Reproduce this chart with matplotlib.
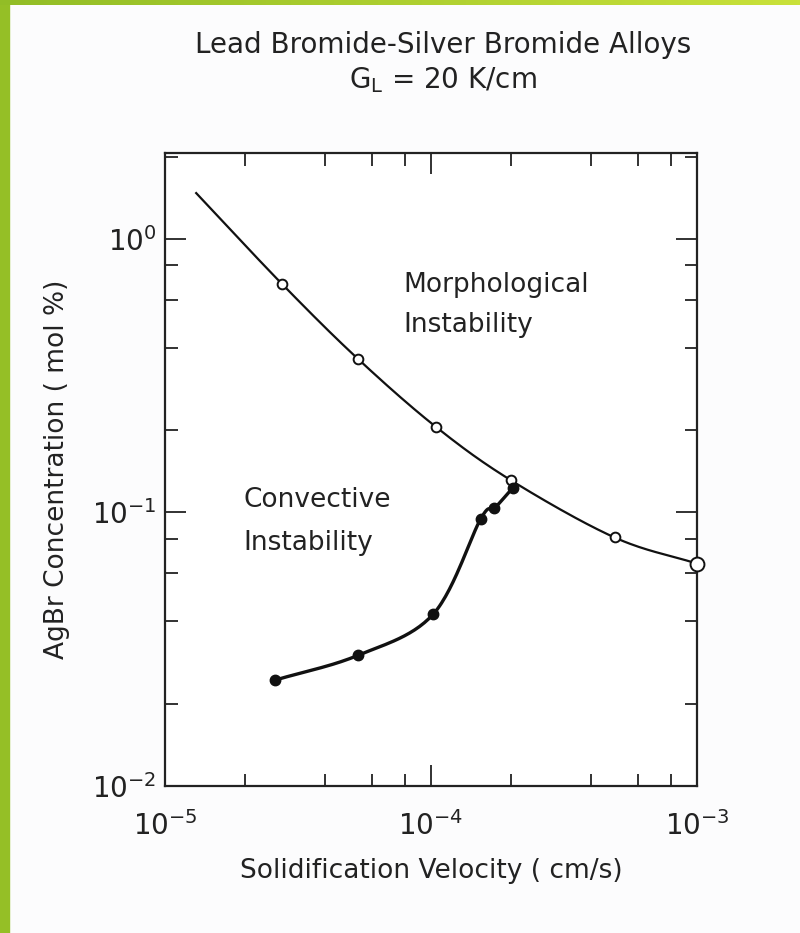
import numpy as np
import matplotlib
matplotlib.use("Agg")
import matplotlib.pyplot as plt
from matplotlib.ticker import LogLocator, FuncFormatter, NullFormatter
from matplotlib.patches import Rectangle

plt.rcParams["font.family"] = ["DejaVu Sans"]
plt.rcParams["mathtext.default"] = "regular"

# morphological instability boundary (open circles)
morph_start_v = 1.31e-5
morph_start_c = 1.47
morph_v = [2.75e-5, 5.3e-5, 1.04e-4, 2.0e-4, 4.9e-4, 1.0e-3]
morph_c = [0.685, 0.365, 0.206, 0.131, 0.081, 0.065]

# convective instability boundary (filled circles)
conv_v = [2.6e-5, 5.3e-5, 1.02e-4, 1.54e-4, 1.73e-4, 2.03e-4]
conv_c = [0.0244, 0.030, 0.0425, 0.095, 0.1035, 0.123]


def smooth(xs, ys, n=30):
    # Catmull-Rom through the points in log-log space, only for drawing the line
    lx, ly = np.log10(xs), np.log10(ys)
    p = np.column_stack([lx, ly])
    p = np.vstack([2 * p[0] - p[1], p, 2 * p[-1] - p[-2]])
    out = []
    t = np.linspace(0, 1, n)[:, None]
    for i in range(1, len(p) - 2):
        p0, p1, p2, p3 = p[i - 1], p[i], p[i + 1], p[i + 2]
        seg = 0.5 * ((2 * p1) + (-p0 + p2) * t + (2 * p0 - 5 * p1 + 4 * p2 - p3) * t ** 2
                     + (-p0 + 3 * p1 - 3 * p2 + p3) * t ** 3)
        out.append(seg)
    out = np.vstack(out)
    return 10 ** out[:, 0], 10 ** out[:, 1]


fig = plt.figure(figsize=(8, 9.33), dpi=100)
fig.patch.set_facecolor("#fcfcfd")

# slide decoration: green bar on the left, gradient strip on top
fig.add_artist(Rectangle((0, 0), 9 / 800, 1, transform=fig.transFigure,
                         color="#95bf26", zorder=0))
top = fig.add_axes([0, 1 - 5 / 933, 1, 5 / 933])
top.imshow(np.linspace(0, 1, 256)[None, :], aspect="auto",
           cmap=matplotlib.colors.LinearSegmentedColormap.from_list(
               "g", ["#92bd26", "#c9e13a"]))
top.axis("off")

ax = fig.add_axes([165 / 800, 1 - 786 / 933, 532 / 800, 633 / 933])
ax.set_facecolor("white")
ax.set_xscale("log")
ax.set_yscale("log")
ax.set_xlim(1e-5, 1e-3)
ax.set_ylim(1e-2, 2.06)

mx, my = smooth([morph_start_v] + morph_v, [morph_start_c] + morph_c)
ax.plot(mx, my, color="#111111", lw=1.6, zorder=2)
ax.plot(morph_v[:-1], morph_c[:-1], "o", ms=7, mfc="white", mec="#111111",
        mew=1.4, zorder=3)
ax.plot(morph_v[-1:], morph_c[-1:], "o", ms=10, mfc="white", mec="#111111",
        mew=1.4, zorder=3, clip_on=False)

cx, cy = smooth(conv_v, conv_c)
ax.plot(cx, cy, color="#111111", lw=2.4, zorder=2)
ax.plot(conv_v, conv_c, "o", ms=7.5, color="#111111", zorder=4)

ax.text(403 / 800, 1 - 285 / 933, "Morphological", transform=fig.transFigure,
        fontsize=19, color="#222222", va="center")
ax.text(403 / 800, 1 - 325 / 933, "Instability", transform=fig.transFigure,
        fontsize=19, color="#222222", va="center")
ax.text(243 / 800, 1 - 500 / 933, "Convective", transform=fig.transFigure,
        fontsize=19, color="#222222", va="center")
ax.text(243 / 800, 1 - 543 / 933, "Instability", transform=fig.transFigure,
        fontsize=19, color="#222222", va="center")

fmt = FuncFormatter(lambda v, pos: r"$10^{%d}$" % int(round(np.log10(v))))
for axis in (ax.xaxis, ax.yaxis):
    axis.set_major_locator(LogLocator(base=10, numticks=10))
    axis.set_minor_locator(LogLocator(base=10, subs=(2, 4, 6, 8), numticks=10))
    axis.set_major_formatter(fmt)
    axis.set_minor_formatter(NullFormatter())

ax.tick_params(which="both", direction="in", top=True, right=True,
               color="#222222", labelcolor="#222222", labelsize=20)
ax.tick_params(which="major", length=15, width=1.3)
ax.tick_params(which="minor", length=9, width=1.3)
ax.tick_params(axis="x", pad=18)
ax.tick_params(axis="y", pad=6)
for s in ax.spines.values():
    s.set_linewidth(1.6)
    s.set_color("#222222")

ax.set_xlabel("Solidification Velocity ( cm/s)", fontsize=19, color="#222222",
              labelpad=12)
ax.set_ylabel("AgBr Concentration ( mol %)", fontsize=19, color="#222222",
              labelpad=16)

fig.text(443 / 800, 1 - 45 / 933, "Lead Bromide-Silver Bromide Alloys",
         ha="center", va="center", fontsize=20, color="#222222")
fig.text(443 / 800, 1 - 80 / 933, r"$G_L$ = 20 K/cm",
         ha="center", va="center", fontsize=20, color="#222222")

fig.savefig("out.png", dpi=100, facecolor=fig.get_facecolor())
